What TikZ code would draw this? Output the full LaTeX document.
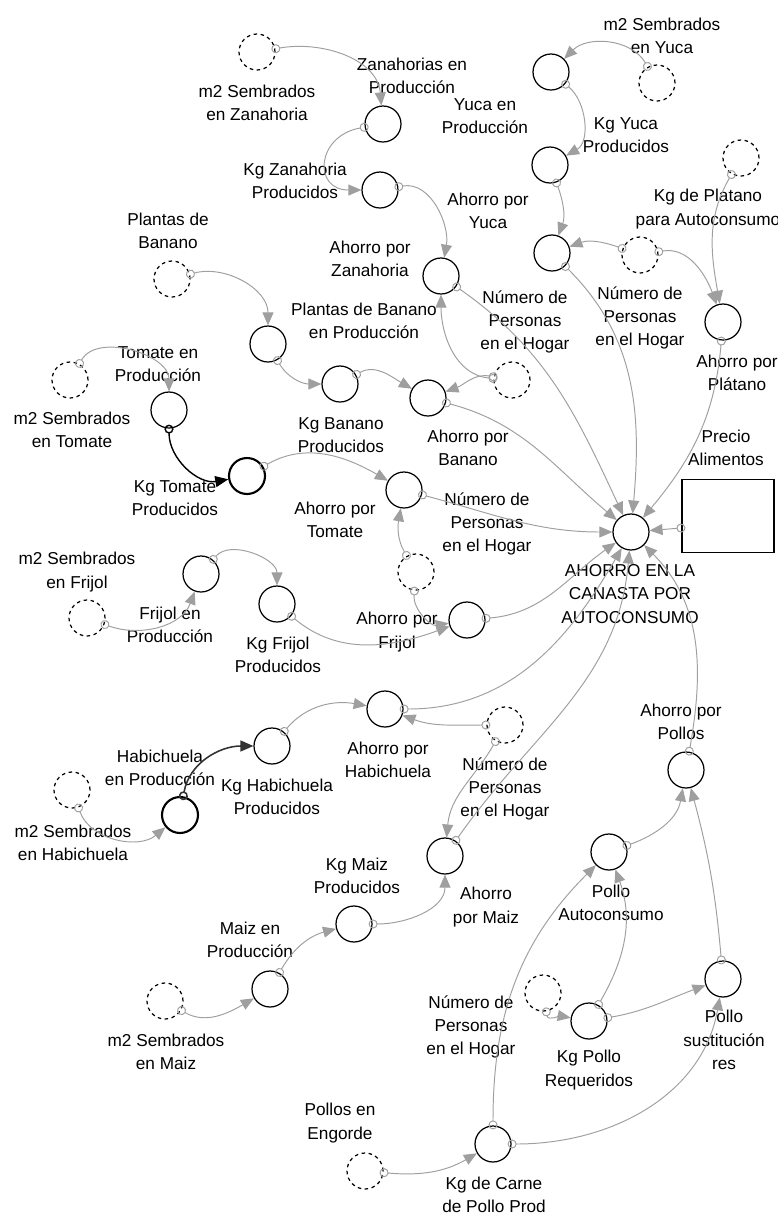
\documentclass[tikz,border=0pt]{standalone}
\usepackage{fontspec}
\setmainfont{Liberation Sans}
\usetikzlibrary{arrows.meta, positioning}
\tikzset{
  aux/.style={
    circle, draw, line width=0.7pt, minimum size=0.72cm, inner sep=0pt
  },
  srcaux/.style={aux, dash pattern=on 2pt off 2pt},
  lbl/.style={
    align=center, inner sep=0pt,
    font=\fontsize{9.8}{13.2}\selectfont
  },
  link/.style={
    draw=gray!75!black!60, line width=0.55pt, shorten <=-0.08cm,
    {Circle[open, length=0.18cm]}-{Triangle[length=0.26cm, width=0.22cm]}
  }
}

\begin{document}
\begin{tikzpicture}[x=0.02cm, y=-0.02cm]
  \useasboundingbox (0,0) rectangle (778,1218);

  % zanahoria
  \node[srcaux] (zm2) at (257,52) {};
  \node[aux] (zprod) at (383,124) {};
  \node[aux] (zkg) at (380,190) {};
  \node[aux] (zah) at (441,276) {};
  \node[lbl] (lzm2) at (257,103) {m2 Sembrados\\en Zanahoria};
  \node[lbl] (lzprod) at (412,76) {Zanahorias en\\Producción};
  \node[lbl] (lzkg) at (295,181) {Kg Zanahoria\\Producidos};
  \node[lbl] (lzah) at (370,259) {Ahorro por\\Zanahoria};

  % yuca
  \node[srcaux] (ym2) at (657,83) {};
  \node[aux] (yprod) at (551,72) {};
  \node[aux] (ykg) at (550,165) {};
  \node[aux] (yah) at (552,253) {};
  \node[lbl] (lym2) at (662,36) {m2 Sembrados\\en Yuca};
  \node[lbl] (lyprod) at (485,116) {Yuca en\\Producción};
  \node[lbl] (lykg) at (626,135) {Kg Yuca\\Producidos};
  \node[lbl] (lyah) at (488,211) {Ahorro por\\Yuca};

  % platano
  \node[srcaux] (platkg) at (741,158) {};
  \node[srcaux] (np1) at (640,255) {};
  \node[aux] (pah) at (723,322) {};
  \node[lbl] (lplatkg) at (708,209) {Kg de Platano\\para Autoconsumo};
  \node[lbl] (lnp1) at (640,318) {Número de\\Personas\\en el Hogar};
  \node[lbl] (lpah) at (737,373) {Ahorro por\\Plátano};

  % banano
  \node[srcaux] (bplant) at (172,279) {};
  \node[aux] (bprod) at (268,344) {};
  \node[aux] (bkg) at (340,384) {};
  \node[aux] (bah) at (428,398) {};
  \node[srcaux] (np2) at (512,380) {};
  \node[lbl] (lbplant) at (168,231) {Plantas de\\Banano};
  \node[lbl] (lbprod) at (364,321) {Plantas de Banano\\en Producción};
  \node[lbl] (lbkg) at (341,435) {Kg Banano\\Producidos};
  \node[lbl] (lbah) at (468,448) {Ahorro por\\Banano};
  \node[lbl] (lnp2) at (525,322) {Número de\\Personas\\en el Hogar};

  % tomate
  \node[srcaux] (tm2) at (70,380) {};
  \node[aux] (tprod) at (169,410) {};
  \node[aux, line width=1.2pt] (tkg) at (247,476) {};
  \node[aux] (tah) at (404,490) {};
  \node[srcaux] (np3) at (416,572) {};
  \node[lbl] (ltm2) at (72,430) {m2 Sembrados\\en Tomate};
  \node[lbl] (ltprod) at (158,364) {Tomate en\\Producción};
  \node[lbl] (ltkg) at (175,498) {Kg Tomate\\Producidos};
  \node[lbl] (ltah) at (335,520) {Ahorro por\\Tomate};
  \node[lbl] (lnp3) at (487,524) {Número de\\Personas\\en el Hogar};

  % frijol
  \node[srcaux] (fm2) at (87,618) {};
  \node[aux] (fprod) at (201,574) {};
  \node[aux] (fkg) at (277,604) {};
  \node[aux] (fah) at (467,620) {};
  \node[lbl] (lfm2) at (77,572) {m2 Sembrados\\en Frijol};
  \node[lbl] (lfprod) at (170,625) {Frijol en\\Producción};
  \node[lbl] (lfkg) at (278,655) {Kg Frijol\\Producidos};
  \node[lbl] (lfah) at (397,632) {Ahorro por\\Frijol};

  % ahorro total
  \node[aux] (ahorro) at (631,532) {};
  \node[lbl] (lahorro) at (630,594) {AHORRO EN LA\\CANASTA POR\\AUTOCONSUMO};
  \node[draw, line width=0.7pt, minimum width=1.84cm, minimum height=1.46cm,
        inner sep=0pt] (precio) at (728,516) {};
  \node[lbl] (lprecio) at (726,448) {Precio\\Alimentos};

  % habichuela
  \node[srcaux] (hm2) at (72,790) {};
  \node[aux, line width=1.2pt] (hprod) at (180,815) {};
  \node[aux] (hkg) at (272,746) {};
  \node[aux] (hah) at (385,709) {};
  \node[srcaux] (np4) at (505,725) {};
  \node[lbl] (lhm2) at (73,843) {m2 Sembrados\\en Habichuela};
  \node[lbl] (lhprod) at (160,768) {Habichuela\\en Producción};
  \node[lbl] (lhkg) at (277,797) {Kg Habichuela\\Producidos};
  \node[lbl] (lhah) at (388,760) {Ahorro por\\Habichuela};
  \node[lbl] (lnp4) at (505,789) {Número de\\Personas\\en el Hogar};

  % maiz
  \node[srcaux] (mm2) at (165,1001) {};
  \node[aux] (mprod) at (270,989) {};
  \node[aux] (mkg) at (354,924) {};
  \node[aux] (mah) at (445,856) {};
  \node[lbl] (lmm2) at (166,1052) {m2 Sembrados\\en Maiz};
  \node[lbl] (lmprod) at (250,940) {Maiz en\\Producción};
  \node[lbl] (lmkg) at (357,876) {Kg Maiz\\Producidos};
  \node[lbl] (lmah) at (486,907) {Ahorro\\por Maiz};

  % pollos
  \node[srcaux] (pollos) at (365,1171) {};
  \node[aux] (carne) at (493,1144) {};
  \node[srcaux] (np5) at (543,993) {};
  \node[aux] (kgpollo) at (589,1021) {};
  \node[aux] (pauto) at (609,852) {};
  \node[aux] (psust) at (723,979) {};
  \node[aux] (ahpollo) at (686,770) {};
  \node[lbl] (lpollos) at (340,1123) {Pollos en\\Engorde};
  \node[lbl] (lcarne) at (494,1195) {Kg de Carne\\de Pollo Prod};
  \node[lbl] (lnp5) at (471,1027) {Número de\\Personas\\en el Hogar};
  \node[lbl] (lkgpollo) at (589,1070) {Kg Pollo\\Requeridos};
  \node[lbl] (lpauto) at (611,903) {Pollo\\Autoconsumo};
  \node[lbl] (lpsust) at (724,1040) {Pollo\\sustitución\\res};
  \node[lbl] (lahpollo) at (681,722) {Ahorro por\\Pollos};

  % links
  \draw[link] (zm2) to[out=10,in=95] (zprod);
  \draw[link] (zprod) to[out=190,in=180,looseness=2] (zkg);
  \draw[link] (zkg) to[out=10,in=80] (zah);
  \draw[link] (ym2) to[out=120,in=45] (yprod);
  \draw[link] (yprod) to[out=-40,in=30] (ykg);
  \draw[link] (ykg) to[out=-70,in=70] (yah);
  \draw[link] (np1) to[out=160,in=20] (yah);
  \draw[link] (np1) to[out=10,in=110] (pah);
  \draw[link] (platkg) to[out=-120,in=100] (pah);
  \draw[link] (bplant) to[out=15,in=90] (bprod);
  \draw[link] (bprod) to[out=-60,in=180] (bkg);
  \draw[link] (bkg) to[out=30,in=150] (bah);
  \draw[link] (np2) to[out=170,in=20] (bah);
  \draw[link] (np2) to[out=175,in=-90] (zah);
  \draw[link] (tm2) to[out=60,in=90] (tprod);
  \draw[link, draw=black, line width=0.8pt] (tprod) to[out=-90,in=190] (tkg);
  \draw[link] (tkg) to[out=30,in=150] (tah);
  \draw[link] (np3) to[out=120,in=-100] (tah);
  \draw[link] (np3) to[out=-95,in=190] (fah);
  \draw[link] (fm2) to[out=-20,in=-110] (fprod);
  \draw[link] (fprod) to[out=50,in=90] (fkg);
  \draw[link] (fkg) to[out=-40,in=200] (fah);
  \draw[link] (hm2) to[out=-70,in=220] (hprod);
  \draw[link, draw=gray!40!black, line width=0.9pt] (hprod) to[out=80,in=180] (hkg);
  \draw[link] (hkg) to[out=50,in=170] (hah);
  \draw[link] (np4) to[out=180,in=-20] (hah);
  \draw[link] (np4) to[out=-120,in=85] (mah);
  \draw[link] (mm2) to[out=-30,in=210] (mprod);
  \draw[link] (mprod) to[out=60,in=195] (mkg);
  \draw[link] (mkg) to[out=0,in=-90] (mah);
  \draw[link] (pollos) to[out=-5,in=210] (carne);
  \draw[link] (carne) to[out=90,in=225] (pauto);
  \draw[link] (carne) to[out=0,in=-100] (psust);
  \draw[link] (np5) to[out=-80,in=170] (kgpollo);
  \draw[link] (kgpollo) to[out=60,in=-70] (pauto);
  \draw[link] (kgpollo) to[out=10,in=200] (psust);
  \draw[link] (pauto) to[out=20,in=-100] (ahpollo);
  \draw[link] (psust) to[out=95,in=-75] (ahpollo);
  \foreach \s/\o/\i in {zah/-35/115, yah/-45/85, pah/-95/50, bah/-15/140,
                        tah/-15/180, fah/5/215, hah/0/240, mah/55/265,
                        ahpollo/80/-45}{%
    \draw[link] (\s) to[out=\o,in=\i] (ahorro);}
  \draw[link] ([yshift=-0.24cm]precio.west) -- (ahorro);
\end{tikzpicture}
\end{document}
